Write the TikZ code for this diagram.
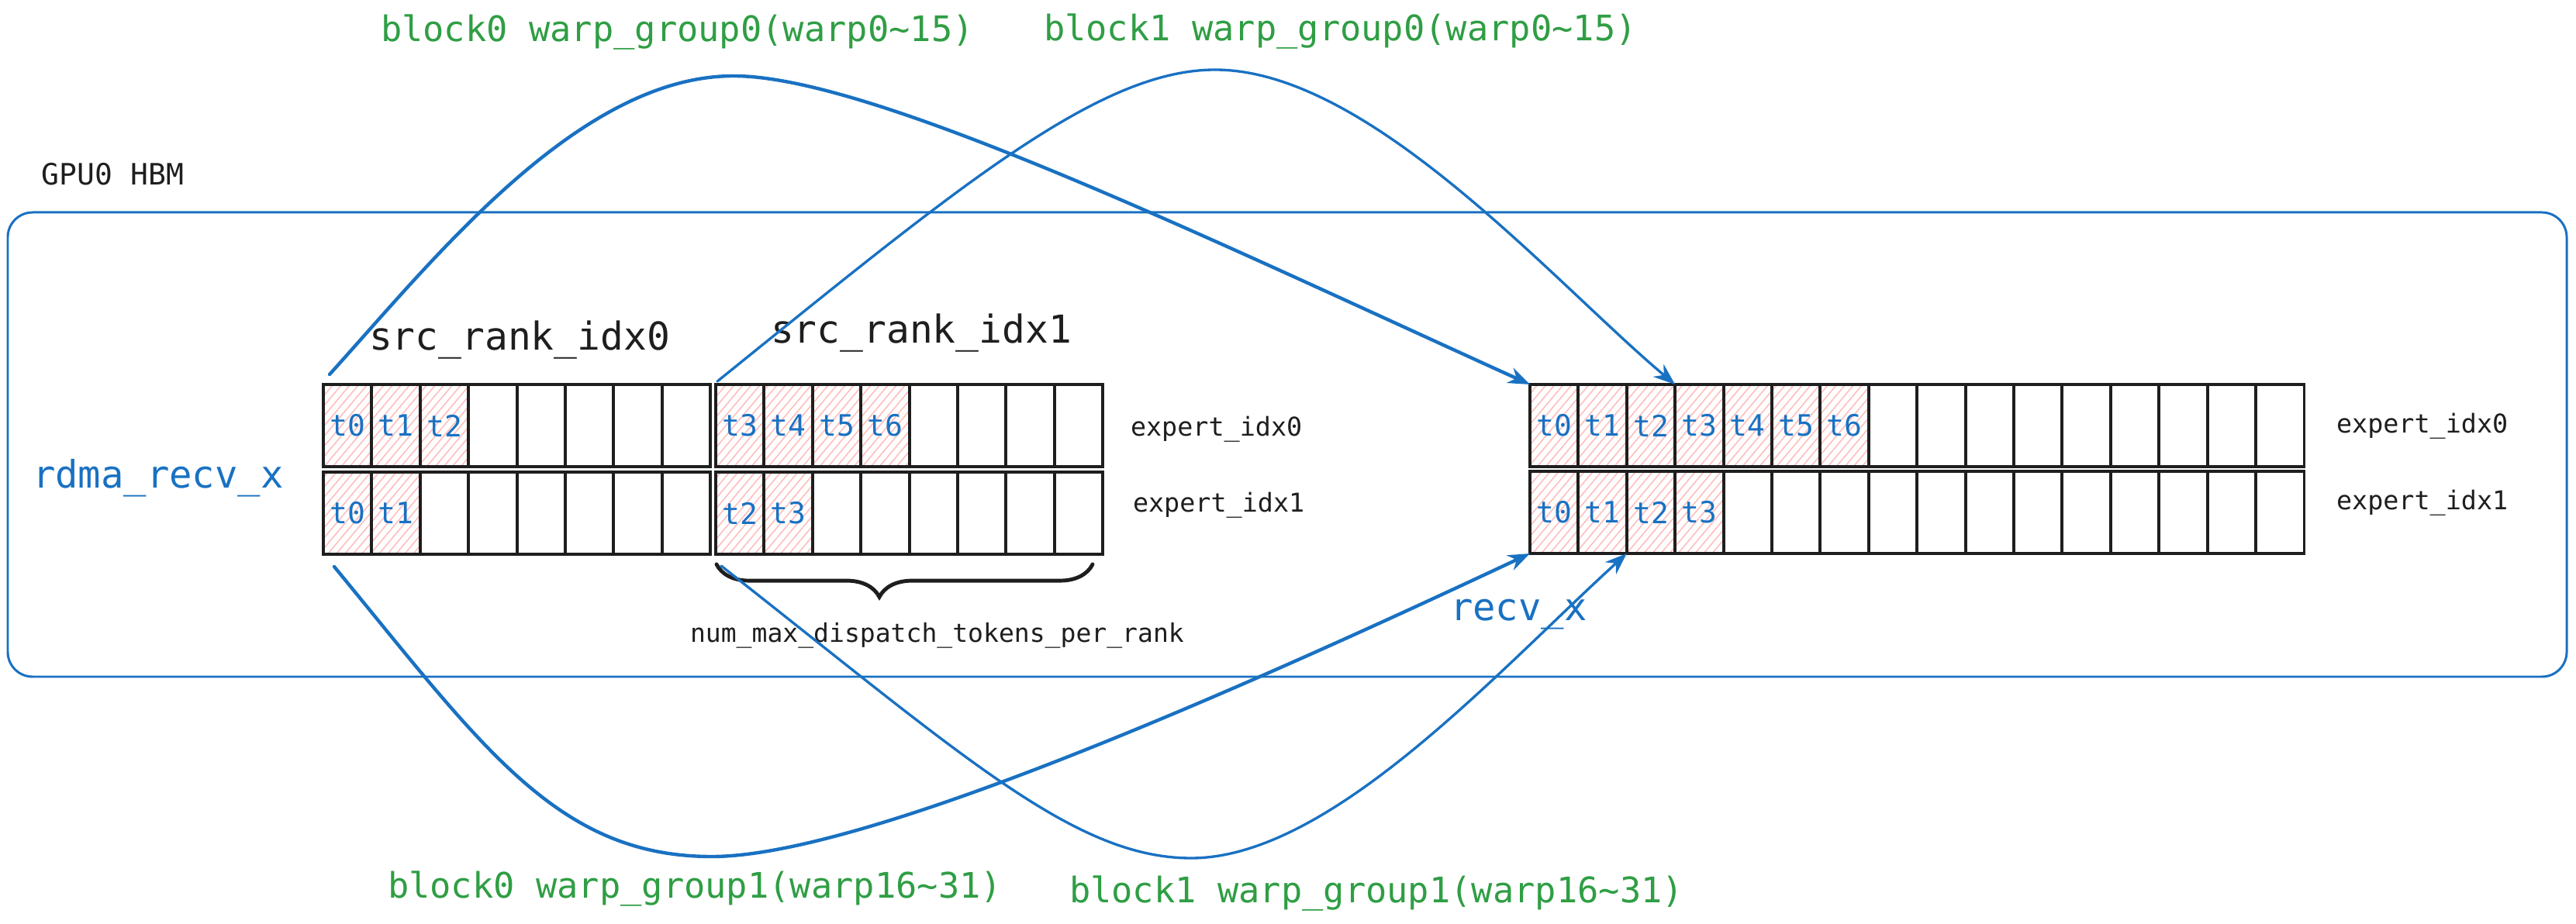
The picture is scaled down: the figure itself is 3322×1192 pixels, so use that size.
\documentclass[tikz,border=0pt]{standalone}
\usepackage{fontspec}
\setmonofont{DejaVu Sans Mono}
\usetikzlibrary{patterns.meta,arrows.meta,decorations.pathreplacing}
\definecolor{eblue}{HTML}{1971C2}
\definecolor{egreen}{HTML}{2F9E44}
\definecolor{epink}{HTML}{FFBDBD}
\definecolor{eblack}{HTML}{1E1E1E}
\newcommand{\myfs}[1]{\fontsize{#1}{#1}\selectfont\ttfamily}
\begin{document}
\begin{tikzpicture}[x=0.01cm,y=0.01cm,
  cell/.style={draw=eblack,line width=1.1pt,minimum width=0.624cm,minimum height=1.06cm,
    inner sep=0pt,outer sep=0pt,text=eblue,font=\myfs{10.8}},
  hatched/.style={pattern={Lines[angle=50,distance=2.4pt,line width=0.45pt]},pattern color=epink},
  lbl/.style={inner sep=0pt,outer sep=0pt,anchor=west},
  green/.style={lbl,text=egreen,font=\myfs{12.9}},
  conn/.style={draw=eblue,line cap=round,-{Stealth[length=8pt,width=6pt]}},
  heavy/.style={line width=1.25pt},
  light/.style={line width=0.95pt}]
\useasboundingbox (0,0) rectangle (3322,-1192);

% GPU HBM box
\draw[eblue,line width=0.85pt,rounded corners=0.32cm] (10,-274) rectangle (3310,-873);
\node[lbl,text=eblack,font=\myfs{10.8}] (hbm) at (54,-225) {GPU0 HBM};

% source buffers (rdma_recv_x)
\foreach \t [count=\i] in {t0,t1,t2}
  \node[cell,hatched] (At\i) at ({417+62.4*(\i-0.5)},-549) {\t};
\foreach \i in {4,...,8}
  \node[cell] (At\i) at ({417+62.4*(\i-0.5)},-549) {};
\foreach \t [count=\i] in {t0,t1}
  \node[cell,hatched] (Ab\i) at ({417+62.4*(\i-0.5)},-662) {\t};
\foreach \i in {3,...,8}
  \node[cell] (Ab\i) at ({417+62.4*(\i-0.5)},-662) {};
\foreach \t [count=\i] in {t3,t4,t5,t6}
  \node[cell,hatched] (Bt\i) at ({923+62.4*(\i-0.5)},-549) {\t};
\foreach \i in {5,...,8}
  \node[cell] (Bt\i) at ({923+62.4*(\i-0.5)},-549) {};
\foreach \t [count=\i] in {t2,t3}
  \node[cell,hatched] (Bb\i) at ({923+62.4*(\i-0.5)},-662) {\t};
\foreach \i in {3,...,8}
  \node[cell] (Bb\i) at ({923+62.4*(\i-0.5)},-662) {};

% destination buffer (recv_x)
\foreach \t [count=\i] in {t0,t1,t2,t3,t4,t5,t6}
  \node[cell,hatched] (Ct\i) at ({1973+62.4*(\i-0.5)},-549) {\t};
\foreach \i in {8,...,16}
  \node[cell] (Ct\i) at ({1973+62.4*(\i-0.5)},-549) {};
\foreach \t [count=\i] in {t0,t1,t2,t3}
  \node[cell,hatched] (Cb\i) at ({1973+62.4*(\i-0.5)},-661) {\t};
\foreach \i in {5,...,16}
  \node[cell] (Cb\i) at ({1973+62.4*(\i-0.5)},-661) {};

% labels
\node[lbl,text=eblack,font=\myfs{14.1}] (src0) at (476,-439) {src\_rank\_idx0};
\node[lbl,text=eblack,font=\myfs{14.1}] (src1) at (994,-430) {src\_rank\_idx1};
\node[lbl,text=eblue,font=\myfs{13.9}] (rdma) at (42,-617) {rdma\_recv\_x};
\node[lbl,text=eblue,font=\myfs{13.9}] (recv) at (1870,-793) {recv\_x};
\node[lbl,text=eblack,font=\myfs{9.5}] (ea0) at (1458,-554) {expert\_idx0};
\node[lbl,text=eblack,font=\myfs{9.5}] (ea1) at (1461,-652) {expert\_idx1};
\node[lbl,text=eblack,font=\myfs{9.5}] (ec0) at (3013,-550) {expert\_idx0};
\node[lbl,text=eblack,font=\myfs{9.5}] (ec1) at (3013,-649) {expert\_idx1};
\node[lbl,text=eblack,font=\myfs{9.4}] (nmax) at (890,-820) {num\_max\_dispatch\_tokens\_per\_rank};
\node[green] (b0g0) at (491,-42) {block0 warp\_group0(warp0\textasciitilde15)};
\node[green] (b1g0) at (1346,-41) {block1 warp\_group0(warp0\textasciitilde15)};
\node[green] (b0g1) at (500,-1146) {block0 warp\_group1(warp16\textasciitilde31)};
\node[green] (b1g1) at (1379,-1152) {block1 warp\_group1(warp16\textasciitilde31)};

% brace
\coordinate (br1) at (924,-728);
\coordinate (br2) at (1409,-728);
\draw[eblack,line width=1.4pt,line cap=round,decorate,
  decoration={brace,mirror,amplitude=12pt,aspect=0.433}] (br1) -- (br2);

% connectors
\coordinate (s1) at (425,-483);
\coordinate (s2) at (925,-492);
\coordinate (s3) at (431,-731);
\coordinate (s4) at (930,-730);
\draw[conn,heavy] (s1) .. controls (559,-335) and (746,-98) .. (946,-98)
  .. controls (1126,-98) and (1563,-310) .. (Ct1.north west);
\draw[conn,light] (s2) .. controls (1237,-240) and (1417,-90) .. (1567,-90)
  .. controls (1767,-90) and (2005,-366) .. (Ct4.north west);
\draw[conn,heavy] (s3) .. controls (622,-963) and (718,-1105) .. (918,-1105)
  .. controls (1118,-1105) and (1615,-882) .. (Cb1.south west);
\draw[conn,light] (s4) .. controls (1244,-977) and (1386,-1107) .. (1536,-1107)
  .. controls (1716,-1107) and (1931,-866) .. (Cb3.south west);
\end{tikzpicture}
\end{document}
